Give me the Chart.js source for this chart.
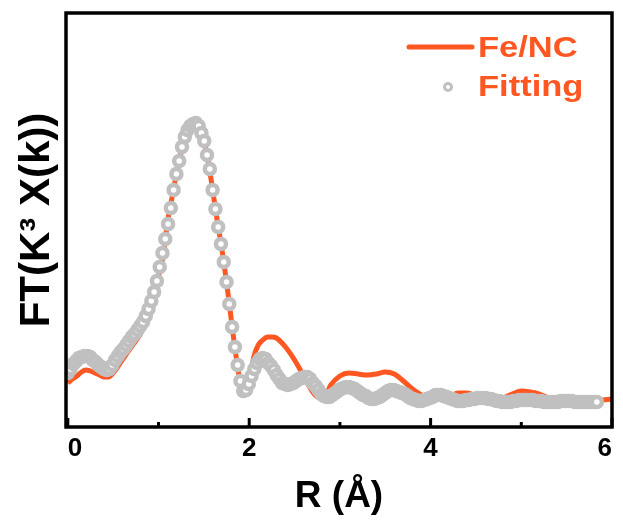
<!DOCTYPE html>
<html>
<head>
<meta charset="utf-8">
<script src="https://cdn.jsdelivr.net/npm/chart.js@4.4.0/dist/chart.umd.min.js"></script>
<style>
  html, body { margin: 0; padding: 0; background: #fff; }
  #wrap { width: 623px; height: 524px; }
</style>
</head>
<body>
<div id="wrap"><canvas id="ftChart" width="623" height="524"></canvas></div>
<script>
// Fitted curve: one value per R grid step (Å)
const FIT_STEP = 0.0307;
const FIT_Y = [
  0.54, 0.58, 0.63, 0.66, 0.69, 0.70, 0.71, 0.71, 0.70, 0.67,
  0.65, 0.62, 0.60, 0.58, 0.57, 0.58, 0.62, 0.67, 0.71, 0.75,
  0.78, 0.82, 0.86, 0.90, 0.93, 0.97, 1.01, 1.05, 1.11, 1.18,
  1.26, 1.35, 1.46, 1.60, 1.74, 1.88, 2.03, 2.19, 2.37, 2.53,
  2.66, 2.80, 2.90, 2.97, 3.01, 3.03, 3.04, 3.01, 2.94, 2.86,
  2.72, 2.58, 2.37, 2.18, 2.00, 1.83, 1.65, 1.45, 1.23, 1.00,
  0.80, 0.62, 0.46, 0.36, 0.37, 0.43, 0.51, 0.58, 0.64, 0.68,
  0.69, 0.68, 0.64, 0.61, 0.57, 0.52, 0.48, 0.44, 0.43, 0.42,
  0.43, 0.44, 0.46, 0.48, 0.49, 0.50, 0.50, 0.48, 0.44, 0.41,
  0.37, 0.33, 0.31, 0.30, 0.30, 0.32, 0.34, 0.36, 0.38, 0.39,
  0.40, 0.40, 0.39, 0.38, 0.36, 0.34, 0.32, 0.31, 0.29, 0.28,
  0.28, 0.29, 0.30, 0.32, 0.34, 0.36, 0.37, 0.37, 0.36, 0.35,
  0.34, 0.33, 0.31, 0.29, 0.28, 0.27, 0.26, 0.26, 0.27, 0.28,
  0.29, 0.30, 0.32, 0.32, 0.32, 0.31, 0.30, 0.29, 0.28, 0.27,
  0.26, 0.26, 0.26, 0.27, 0.27, 0.28, 0.28, 0.29, 0.29, 0.29,
  0.29, 0.28, 0.28, 0.27, 0.26, 0.26, 0.25, 0.25, 0.25, 0.25,
  0.26, 0.26, 0.27, 0.27, 0.27, 0.27, 0.27, 0.27, 0.26, 0.26,
  0.26, 0.25, 0.25, 0.25, 0.25, 0.25, 0.25, 0.26, 0.26, 0.26,
  0.26, 0.26, 0.25, 0.25, 0.25, 0.25, 0.25, 0.25, 0.25, 0.25,
  0.25
];

// Measured Fe/NC spectrum
const FENC_R = [
  0.00, 0.05, 0.10, 0.15, 0.20, 0.25, 0.30, 0.35, 0.40, 0.45,
  0.50, 0.60, 0.70, 0.80, 0.90, 0.95, 1.00, 1.05, 1.10, 1.15,
  1.20, 1.25, 1.30, 1.35, 1.40, 1.45, 1.50, 1.55, 1.60, 1.65,
  1.70, 1.75, 1.80, 1.85, 1.90, 1.95, 2.00, 2.05, 2.10, 2.15,
  2.20, 2.25, 2.30, 2.40, 2.50, 2.60, 2.70, 2.75, 2.80, 2.85,
  2.90, 3.00, 3.10, 3.20, 3.30, 3.40, 3.50, 3.60, 3.70, 3.80,
  3.90, 4.00, 4.10, 4.20, 4.30, 4.40, 4.50, 4.60, 4.70, 4.80,
  4.90, 5.00, 5.10, 5.20, 5.30, 5.40, 5.50, 5.60, 5.70, 5.80,
  5.90, 6.00
];
const FENC_Y = [
  0.44, 0.48, 0.51, 0.55, 0.57, 0.56, 0.54, 0.52, 0.50, 0.50,
  0.54, 0.67, 0.80, 0.93, 1.12, 1.27, 1.51, 1.71, 2.05, 2.30,
  2.54, 2.75, 2.93, 3.01, 3.04, 3.01, 2.87, 2.65, 2.35, 2.05,
  1.77, 1.45, 1.09, 0.74, 0.46, 0.32, 0.46, 0.70, 0.82, 0.87,
  0.90, 0.90, 0.89, 0.80, 0.67, 0.51, 0.35, 0.30, 0.29, 0.33,
  0.42, 0.51, 0.54, 0.53, 0.52, 0.53, 0.55, 0.53, 0.46, 0.38,
  0.32, 0.29, 0.28, 0.30, 0.34, 0.34, 0.31, 0.27, 0.26, 0.29,
  0.33, 0.36, 0.35, 0.33, 0.29, 0.26, 0.26, 0.26, 0.26, 0.26,
  0.27, 0.28
];

const X_TICKS = [0, 2, 4, 6];
const X_MINOR = [1, 3, 5];
const SERIES_NAMES = ['Fe/NC', 'Fitting'];

const ORANGE = '#FF5722';
const GREY = '#C0C0C0';
const FONT = "'Liberation Sans', Arial, sans-serif";

const fitPoints = FIT_Y.map((y, i) => ({ x: i * FIT_STEP, y: y }));
const fencPoints = FENC_R.map((r, i) => ({ x: r, y: FENC_Y[i] }));

// Box frame, inward x ticks and the in-plot legend
const framePlugin = {
    id: 'frameAndLegend',
    afterDraw(chart) {
        const ctx = chart.ctx;
        const area = chart.chartArea;
        const xs = chart.scales.x;
        ctx.save();
        ctx.strokeStyle = '#000';
        ctx.lineWidth = 3.5;
        ctx.strokeRect(area.left, area.top, area.right - area.left, area.bottom - area.top);

        ctx.lineWidth = 3;
        X_TICKS.forEach(v => {
            const px = xs.getPixelForValue(v);
            ctx.beginPath();
            ctx.moveTo(px, area.bottom);
            ctx.lineTo(px, area.bottom - 9);
            ctx.stroke();
        });
        X_MINOR.forEach(v => {
            const px = xs.getPixelForValue(v);
            ctx.beginPath();
            ctx.moveTo(px, area.bottom);
            ctx.lineTo(px, area.bottom - 5);
            ctx.stroke();
        });

        // legend
        ctx.strokeStyle = ORANGE;
        ctx.lineWidth = 5;
        ctx.lineCap = 'round';
        ctx.beginPath();
        ctx.moveTo(409, 47);
        ctx.lineTo(472, 47);
        ctx.stroke();

        ctx.strokeStyle = GREY;
        ctx.fillStyle = '#fff';
        ctx.lineWidth = 3;
        ctx.beginPath();
        ctx.arc(448, 87, 3.5, 0, Math.PI * 2);
        ctx.fill();
        ctx.stroke();

        ctx.fillStyle = ORANGE;
        ctx.font = 'bold 30px ' + FONT;
        ctx.textBaseline = 'alphabetic';
        ctx.textAlign = 'left';
        [[SERIES_NAMES[0], 57], [SERIES_NAMES[1], 96]].forEach(([txt, y]) => {
            ctx.save();
            ctx.translate(478, y);
            ctx.scale(1.15, 1);
            ctx.fillText(txt, 0, 0);
            ctx.restore();
        });
        ctx.restore();
    }
};

new Chart(document.getElementById('ftChart'), {
    type: 'line',
    data: {
        datasets: [
            {
                label: SERIES_NAMES[0],
                data: fencPoints,
                borderColor: ORANGE,
                borderWidth: 5,
                pointRadius: 0,
                cubicInterpolationMode: 'monotone',
                fill: false,
                order: 1
            },
            {
                label: SERIES_NAMES[1],
                data: fitPoints,
                showLine: false,
                pointRadius: 5,
                pointBorderWidth: 4.5,
                pointBorderColor: GREY,
                pointBackgroundColor: '#fff',
                order: 0
            }
        ]
    },
    options: {
        responsive: false,
        animation: false,
        layout: { padding: { left: 0, right: 11, top: 13, bottom: 0 } },
        plugins: {
            legend: { display: false },
            tooltip: { enabled: false }
        },
        scales: {
            x: {
                type: 'linear',
                min: -0.02,
                max: 6.0,
                afterBuildTicks: s => { s.ticks = X_TICKS.map(v => ({ value: v })); },
                afterFit: s => { s.height = 97; },
                grid: { display: false, drawTicks: false },
                border: { display: false },
                ticks: {
                    align: 'inner',
                    padding: 6,
                    color: '#000',
                    font: { family: FONT, size: 26, weight: 'bold' }
                },
                title: {
                    display: true,
                    text: 'R (Å)',
                    color: '#000',
                    padding: { top: 0, bottom: 5 },
                    font: { family: FONT, size: 37, weight: 'bold' }
                }
            },
            y: {
                min: 0,
                max: 4.14,
                afterFit: s => { s.width = 66; },
                grid: { display: false, drawTicks: false },
                border: { display: false },
                ticks: { display: false },
                title: {
                    display: true,
                    text: 'FT(K³ X(k))',
                    color: '#000',
                    padding: { top: 12, bottom: 0 },
                    font: { family: FONT, size: 42, weight: 'bold' }
                }
            }
        }
    },
    plugins: [framePlugin]
});
</script>
</body>
</html>
